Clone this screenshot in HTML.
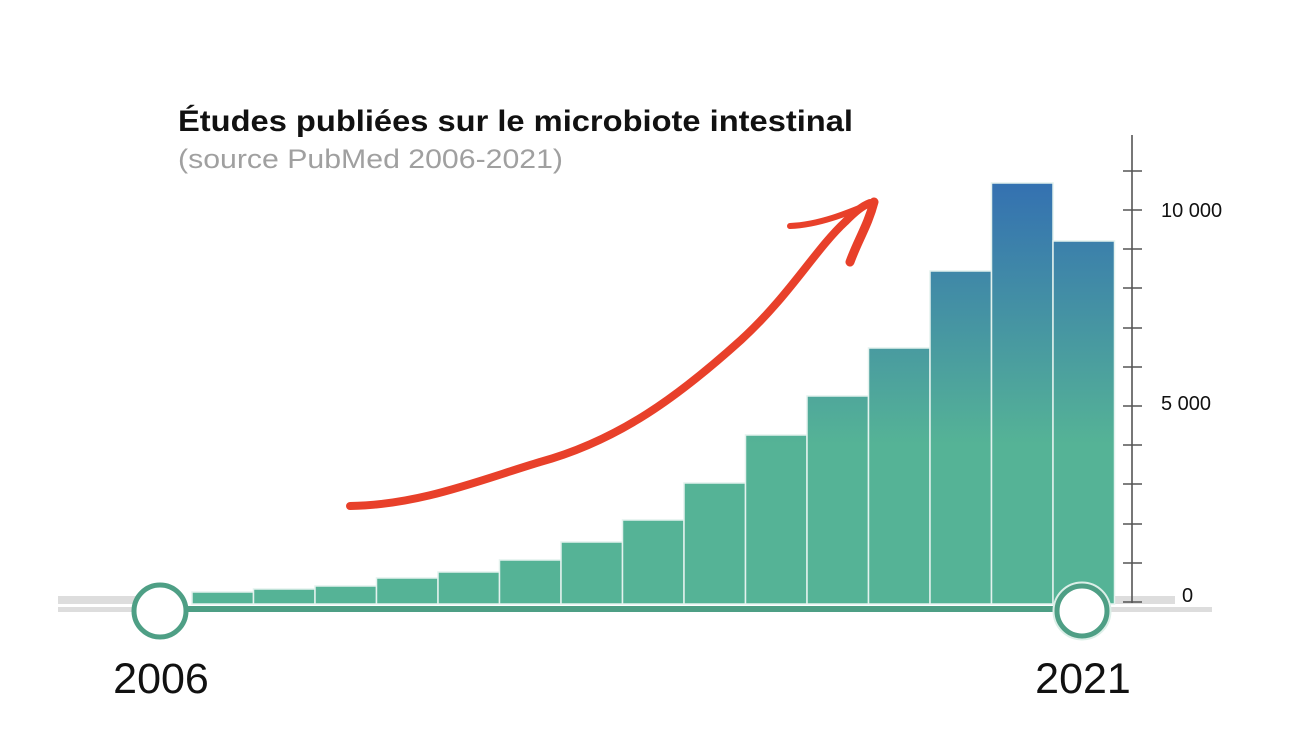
<!DOCTYPE html>
<html><head><meta charset="utf-8"><style>
html,body{margin:0;padding:0;background:#fff;}
svg{display:block;}
text{font-family:"Liberation Sans",Arial,sans-serif;}
</style></head><body>
<svg width="1300" height="741" viewBox="0 0 1300 741" xmlns="http://www.w3.org/2000/svg">
<defs>
<linearGradient id="g" gradientUnits="userSpaceOnUse" x1="0" y1="604" x2="0" y2="183">
<stop offset="0" stop-color="#55b396"/>
<stop offset="0.38" stop-color="#55b396"/>
<stop offset="1" stop-color="#3471b1"/>
</linearGradient>
</defs>
<text x="178" y="131" font-size="30" font-weight="bold" fill="#111" textLength="675" lengthAdjust="spacingAndGlyphs">Études publiées sur le microbiote intestinal</text>
<text x="178" y="168" font-size="27" fill="#a0a0a0" textLength="385" lengthAdjust="spacingAndGlyphs">(source PubMed 2006-2021)</text>

<rect x="58" y="596" width="78" height="8" fill="#ddd"/>
<rect x="58" y="607" width="78" height="5" fill="#ddd"/>
<rect x="1114" y="596" width="61" height="8" fill="#ddd"/>
<rect x="1110" y="607" width="102" height="5" fill="#ddd"/>

<g fill="url(#g)" stroke="#e4f2ee" stroke-width="1.5">
<rect x="192" y="592" width="61.5" height="12"/>
<rect x="253.5" y="589" width="61.5" height="15"/>
<rect x="315" y="586" width="61.5" height="18"/>
<rect x="376.5" y="578" width="61.5" height="26"/>
<rect x="438" y="572" width="61.5" height="32"/>
<rect x="499.5" y="560" width="61.5" height="44"/>
<rect x="561" y="542" width="61.5" height="62"/>
<rect x="622.5" y="520" width="61.5" height="84"/>
<rect x="684" y="483" width="61.5" height="121"/>
<rect x="745.5" y="435" width="61.5" height="169"/>
<rect x="807" y="396" width="61.5" height="208"/>
<rect x="868.5" y="348" width="61.5" height="256"/>
<rect x="930" y="271" width="61.5" height="333"/>
<rect x="991.5" y="183" width="61.5" height="421"/>
<rect x="1053" y="241" width="61.5" height="363"/>
</g>

<rect x="185" y="606" width="872" height="6" fill="#4e9f85"/>

<g stroke="#555" stroke-width="1.6">
<line x1="1132" y1="135" x2="1132" y2="603"/>
<line x1="1123" y1="602" x2="1142" y2="602"/>
<line x1="1123" y1="563" x2="1142" y2="563"/>
<line x1="1123" y1="524" x2="1142" y2="524"/>
<line x1="1123" y1="484" x2="1142" y2="484"/>
<line x1="1123" y1="445" x2="1142" y2="445"/>
<line x1="1123" y1="406" x2="1142" y2="406"/>
<line x1="1123" y1="367" x2="1142" y2="367"/>
<line x1="1123" y1="328" x2="1142" y2="328"/>
<line x1="1123" y1="288" x2="1142" y2="288"/>
<line x1="1123" y1="249" x2="1142" y2="249"/>
<line x1="1123" y1="210" x2="1142" y2="210"/>
<line x1="1123" y1="171" x2="1142" y2="171"/>
</g>
<text x="1161" y="217" font-size="20" fill="#111">10 000</text>
<text x="1161" y="410" font-size="20" fill="#111">5 000</text>
<text x="1182" y="602" font-size="20" fill="#111">0</text>

<circle cx="160" cy="611" r="26" fill="#fff" stroke="#4e9f85" stroke-width="5"/>
<circle cx="1082" cy="611" r="28" fill="#fff" stroke="#dcefe8" stroke-width="3"/>
<circle cx="1082" cy="611" r="25" fill="#fff" stroke="#4e9f85" stroke-width="5"/>

<text x="161" y="693" font-size="43" fill="#111" text-anchor="middle">2006</text>
<text x="1083" y="693" font-size="43" fill="#111" text-anchor="middle">2021</text>

<g fill="none" stroke="#e8402a" stroke-linecap="round" stroke-linejoin="round">
<path d="M350 506 C420 505 480 480 540 462 C620 440 680 395 741 340 C790 295 815 250 845 222 C855 212 862 206 870 203" stroke-width="8"/>
<path d="M790 226 C820 225 850 212 874 202" stroke-width="6"/>
<path d="M874 202 C868 225 858 240 850 262" stroke-width="9"/>
</g>
</svg>
</body></html>
